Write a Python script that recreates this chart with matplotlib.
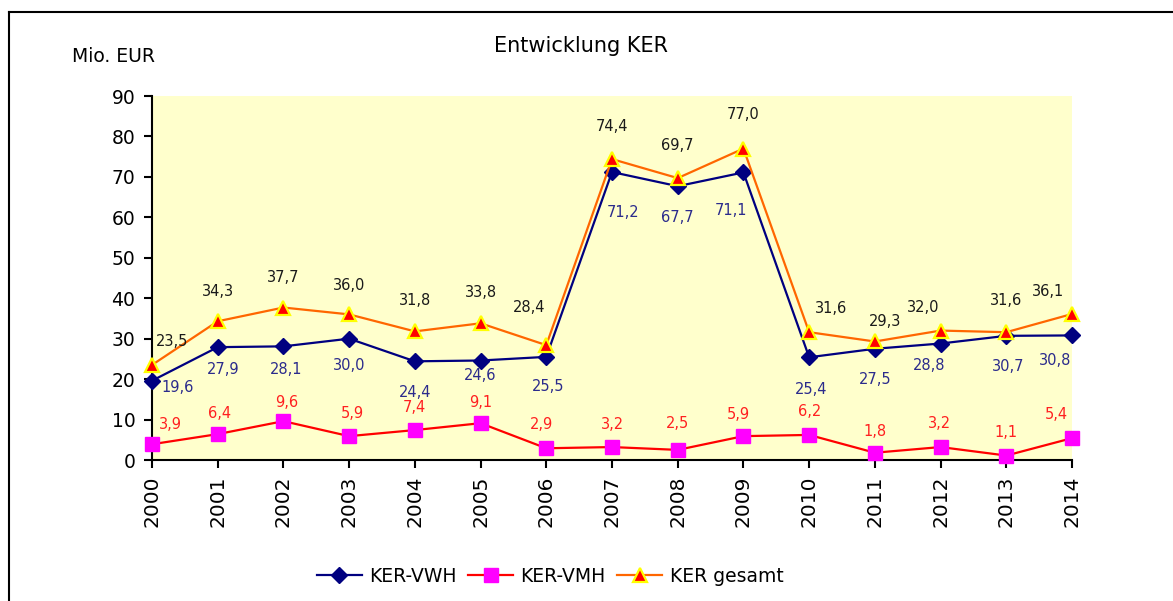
import matplotlib
matplotlib.use("Agg")
import matplotlib.pyplot as plt
from matplotlib.lines import Line2D

# ---- data ----
years = [2000, 2001, 2002, 2003, 2004, 2005, 2006, 2007, 2008, 2009, 2010, 2011, 2012, 2013, 2014]
ker_vwh = [19.6, 27.9, 28.1, 30.0, 24.4, 24.6, 25.5, 71.2, 67.7, 71.1, 25.4, 27.5, 28.8, 30.7, 30.8]
ker_vmh = [3.9, 6.4, 9.6, 5.9, 7.4, 9.1, 2.9, 3.2, 2.5, 5.9, 6.2, 1.8, 3.2, 1.1, 5.4]
ker_gesamt = [23.5, 34.3, 37.7, 36.0, 31.8, 33.8, 28.4, 74.4, 69.7, 77.0, 31.6, 29.3, 32.0, 31.6, 36.1]
series_names = ["KER-VWH", "KER-VMH", "KER gesamt"]
title = "Entwicklung KER"
y_unit = "Mio. EUR"
y_ticks = [0, 10, 20, 30, 40, 50, 60, 70, 80, 90]

# label offsets (pixels, x right / y up)
off_vwh = [(26, -7), (5, -22), (3, -23), (0, -27), (0, -31), (0, -15), (2, -30), (11, -40),
           (0, -31), (-12, -38), (2, -32), (0, -31), (-11, -22), (2, -31), (-17, -25)]
off_vmh = [(18, 20), (2, 21), (3, 19), (3, 23), (0, 23), (0, 21), (-5, 24), (0, 23),
           (0, 26), (-5, 22), (0, 23), (0, 21), (-1, 24), (0, 23), (-16, 24)]
off_ges = [(20, 23), (0, 30), (0, 30), (0, 29), (0, 31), (0, 31), (-17, 38), (0, 33),
           (0, 33), (0, 34), (22, 24), (10, 20), (-17, 23), (0, 32), (-24, 22)]

def fmt(v):
    return f"{v:.1f}".replace(".", ",")

plt.rcParams['font.family'] = ['DejaVu Sans']

fig = plt.figure(figsize=(11.73, 6.01), dpi=100)
ax = fig.add_axes([152/1173, 1 - 460/601, (1072 - 152)/1173, (460 - 96)/601])
ax.set_facecolor("#FFFFCC")

navy = "#000080"
ax.plot(years, ker_vwh, color=navy, lw=1.6, marker="D", ms=8.5,
        mfc=navy, mec=navy, zorder=3, clip_on=False)
ax.plot(years, ker_vmh, color="#FF0000", lw=1.6, marker="s", ms=9.5,
        mfc="#FF00FF", mec="#FF00FF", zorder=3, clip_on=False)
ax.plot(years, ker_gesamt, color="#FF6600", lw=1.6, marker="^", ms=10,
        mfc="#FF0000", mec="#FFFF00", mew=1.6, zorder=4, clip_on=False)

for vals, offs, col in [(ker_vwh, off_vwh, "#2B2B8C"),
                        (ker_vmh, off_vmh, "#FF2020"),
                        (ker_gesamt, off_ges, "#1A1A1A")]:
    for x, v, (dx, dy) in zip(years, vals, offs):
        ax.annotate(fmt(v), (x, v), xytext=(dx, dy), textcoords="offset pixels",
                    ha="center", va="center", fontsize=10.5, color=col, zorder=5)

ax.set_xlim(years[0], years[-1])
ax.set_ylim(0, 90)
ax.set_yticks(y_ticks)
ax.set_xticks(years)
ax.set_xticklabels([str(y) for y in years], rotation=90, fontsize=14.5)
ax.tick_params(axis="y", labelsize=13.5, direction="out", length=6, width=1.5, pad=6)
ax.tick_params(axis="x", direction="out", length=6, width=1.5, pad=5)
for s in ["top", "right"]:
    ax.spines[s].set_visible(False)
for s in ["left", "bottom"]:
    ax.spines[s].set_linewidth(1.5)

fig.text(581/1173, 1 - 46/601, title, ha="center", va="center", fontsize=15)
fig.text(72/1173, 1 - 56/601, y_unit, ha="left", va="center", fontsize=13.5)

# outer frame (top and left lines)
fig.add_artist(Line2D([9/1173, 1], [1 - 12/601, 1 - 12/601], color="black", lw=1.5,
                      transform=fig.transFigure))
fig.add_artist(Line2D([9/1173, 9/1173], [0, 1 - 12/601], color="black", lw=1.5,
                      transform=fig.transFigure))

handles = [
    Line2D([], [], color=navy, lw=1.6, marker="D", ms=8.5, mfc=navy, mec=navy),
    Line2D([], [], color="#FF0000", lw=1.6, marker="s", ms=9.5, mfc="#FF00FF", mec="#FF00FF"),
    Line2D([], [], color="#FF6600", lw=1.6, marker="^", ms=10, mfc="#FF0000", mec="#FFFF00", mew=1.6),
]
fig.legend(handles, series_names, loc="center", bbox_to_anchor=(550/1173, 1 - 576/601),
           ncol=3, frameon=False, fontsize=13.5, handlelength=2.4, columnspacing=0.6,
           handletextpad=0.4)

fig.savefig("out.png", dpi=100)
